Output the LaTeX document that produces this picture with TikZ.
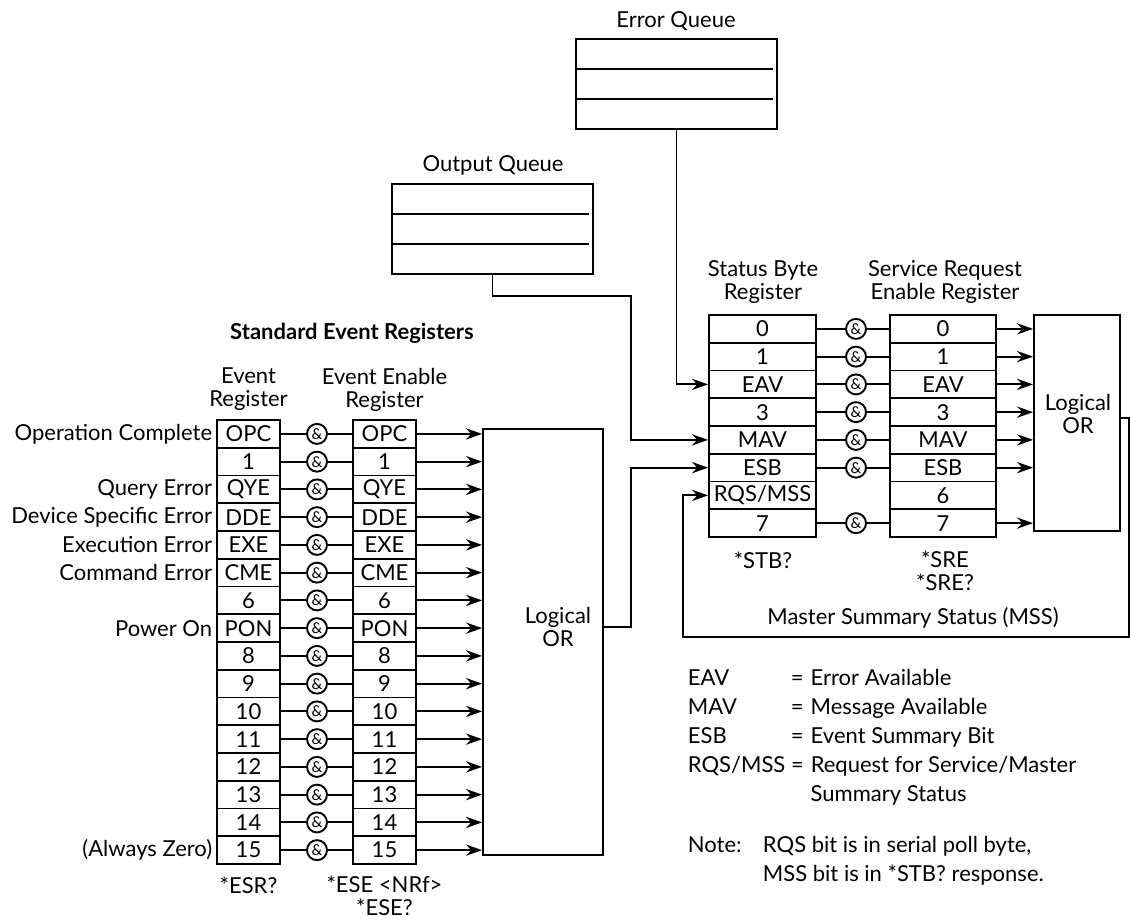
\documentclass[tikz,border=0pt]{standalone}
\usepackage{fontspec}
\setmainfont{Lato}
\usetikzlibrary{positioning, calc, arrows.meta}

\begin{document}
\begin{tikzpicture}[
    x=0.5pt, y=-0.5pt,
    line width=0.95pt,
    font=\fontsize{11}{11.5}\selectfont,
    % one cell of a register
    bitbox/.style={draw, rectangle, inner sep=0pt, minimum height=13.875pt, minimum width=31.5pt},
    % the AND circles between two registers
    andgate/.style={draw, circle, inner sep=0pt, minimum size=10pt, font=\fontsize{7.5}{7.5}\selectfont},
    lbl/.style={inner sep=0pt, align=center},
    queue/.style={draw, rectangle, inner sep=0pt, minimum width=100.5pt, minimum height=45pt},
    >={Stealth[length=8pt, width=5.6pt]}
]
    \useasboundingbox (0,0) rectangle (1130,918);

    % --- Queues ---
    \node[queue] (eq) at (676.5,84) {};
    \node[queue] (oq) at (492.5,229) {};
    \foreach \k in {1,2} {
        \draw ($(eq.north west)!\k/3!(eq.south west)$) -- ++(198,0);
        \draw ($(oq.north west)!\k/3!(oq.south west)$) -- ++(198,0);
    }
    \node[lbl] (eqtitle) at (676,21) {Error Queue};
    \node[lbl] (oqtitle) at (493,165) {Output Queue};

    % --- Standard event registers ---
    \node[lbl, font=\fontsize{11}{11.5}\selectfont\bfseries] (sertitle) at (352,333) {Standard Event Registers};
    \node[lbl] (erhead) at (248.5,389.5) {Event\\Register};
    \node[lbl] (eerhead) at (384.5,389.5) {Event Enable\\Register};

    \node[draw, inner sep=0pt, minimum width=60pt, minimum height=213pt] (or1) at (543,642) {};
    \node[lbl] (or1txt) at (558,627) {Logical\\OR};

    \foreach \lab [count=\i from 0] in {OPC,1,QYE,DDE,EXE,CME,6,PON,8,9,10,11,12,13,14,15} {
        \node[bitbox] (er\i) at (248.5,{420+27.75*(\i+0.5)}) {\lab};
        \node[bitbox] (eer\i) at (384.5,{420+27.75*(\i+0.5)}) {\lab};
        \node[andgate] (ea\i) at (317,{420+27.75*(\i+0.5)}) {\&};
        \draw (er\i) -- (ea\i) -- (eer\i);
        \draw[->] (eer\i) -- (eer\i -| or1.west);
    }

    \foreach \i/\txt in {0/Operation Complete, 2/Query Error, 3/Device Specific Error,
                         4/Execution Error, 5/Command Error, 7/Power On, 15/(Always Zero)} {
        \node[lbl, left=1.5pt of er\i] (side\i) {\txt};
    }

    \node[lbl] (esrq) at (248.5,885) {*ESR?};
    \node[lbl] (eseq) at (384.5,896) {*ESE <NRf>\\*ESE?};

    % --- Status byte and service request enable ---
    \node[lbl] (sbhead) at (763,282) {Status Byte\\Register};
    \node[lbl] (srehead) at (945,282) {Service Request\\Enable Register};

    \node[draw, inner sep=0pt, minimum width=43pt, minimum height=108pt] (or2) at (1077,423) {};
    \node[lbl] (or2txt) at (1078,414) {Logical\\OR};

    \foreach \lab [count=\i from 0] in {0,1,EAV,3,MAV,ESB,RQS/MSS,7} {
        \node[bitbox, minimum width=53.5pt] (sb\i) at (762.5,{315+27.75*(\i+0.5)}) {\lab};
    }
    \foreach \lab [count=\i from 0] in {0,1,EAV,3,MAV,ESB,6,7} {
        \node[bitbox, minimum width=53pt] (sre\i) at (943,{315+27.75*(\i+0.5)}) {\lab};
    }
    \foreach \i in {0,1,2,3,4,5,7} {
        \node[andgate] (sa\i) at (856,{315+27.75*(\i+0.5)}) {\&};
        \draw (sb\i) -- (sa\i) -- (sre\i);
        \draw[->] (sre\i) -- (sre\i -| or2.west);
    }

    \node[lbl] (stbq) at (763,560) {*STB?};
    \node[lbl] (sreq) at (945,571) {*SRE\\*SRE?};

    % --- Connections into the status byte ---
    \coordinate (bend) at (631,296);
    \draw[->] (eq.south) -- (eq.south |- sb2) -- (sb2.west);
    \draw[->] (oq.south) |- (bend) -- (bend |- sb4) -- (sb4.west);
    \draw[->] (or1txt -| or1.east) -- (or1txt -| bend) -- (bend |- sb5) -- (sb5.west);

    % --- Master summary status feedback ---
    \coordinate (msscorner) at (1129,637);
    \coordinate (mssleft) at (683,637);
    \draw[->] ($(or2.east)+(0,-5)$) -- ($(or2.east -| msscorner)+(0,-5)$) -- (msscorner)
        -- (mssleft) -- (mssleft |- sb6) -- (sb6.west);
    \node[lbl] (msstxt) at (913,618) {Master Summary Status (MSS)};

    % --- Legend ---
    \node[lbl, anchor=north west, align=left, font=\fontsize{11}{14.5}\selectfont] (legend) at (687,664) {%
        \begin{tabular}{@{}p{51.5pt}@{}l@{\hspace{3.5pt}}l@{}}
        EAV & = & Error Available\\
        MAV & = & Message Available\\
        ESB & = & Event Summary Bit\\
        RQS/MSS & = & Request for Service/Master\\
         & & Summary Status
        \end{tabular}};
    \node[lbl, anchor=north west, align=left, font=\fontsize{11}{14.5}\selectfont] (note) at (687,831) {%
        \begin{tabular}{@{}p{37.5pt}@{}l@{}}
        Note: & RQS bit is in serial poll byte,\\
         & MSS bit is in *STB? response.
        \end{tabular}};

\end{tikzpicture}
\end{document}
